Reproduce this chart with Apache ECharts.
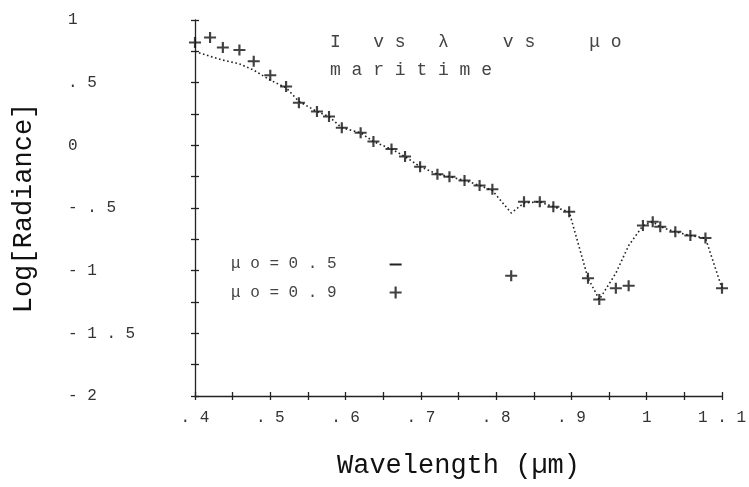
<!DOCTYPE html>
<html>
<head>
<meta charset="utf-8">
<script src="https://cdn.jsdelivr.net/npm/echarts@6/dist/echarts.min.js"></script>
<style>html,body{margin:0;padding:0;background:#fff}#c{width:749px;height:487px}</style>
</head>
<body>
<div id="c"></div>
<script>
// Wavelength (µm)
const wavelength = [0.400, 0.420, 0.437, 0.459, 0.478, 0.500, 0.521, 0.538, 0.562, 0.578, 0.595, 0.620, 0.637, 0.661, 0.679, 0.699, 0.722, 0.738, 0.758, 0.778, 0.795, 0.820, 0.837, 0.858, 0.876, 0.897, 0.922, 0.937, 0.959, 0.976, 0.995, 1.008, 1.018, 1.038, 1.058, 1.078, 1.100];
// Log[Radiance], μo = 0.5 (dotted line)
const mu05 = [0.75, 0.71, 0.68, 0.65, 0.60, 0.52, 0.46, 0.35, 0.27, 0.23, 0.14, 0.10, 0.03, -0.03, -0.09, -0.17, -0.23, -0.25, -0.28, -0.32, -0.36, -0.54, -0.46, -0.45, -0.49, -0.53, -1.06, -1.23, -1.02, -0.80, -0.64, -0.61, -0.65, -0.69, -0.72, -0.74, -1.14];
// Log[Radiance], μo = 0.9 (+ markers)
const mu09 = [0.82, 0.86, 0.78, 0.76, 0.67, 0.56, 0.47, 0.34, 0.27, 0.23, 0.14, 0.10, 0.03, -0.03, -0.09, -0.17, -0.23, -0.25, -0.28, -0.32, -0.35, -1.04, -0.45, -0.45, -0.49, -0.53, -1.06, -1.23, -1.14, -1.12, -0.64, -0.61, -0.65, -0.69, -0.72, -0.74, -1.14];
const xTickLabels = ['.4', '.5', '.6', '.7', '.8', '.9', '1', '1.1'];
const yTickLabels = ['-2', '-1.5', '-1', '-.5', '0', '.5', '1'];
const seriesNames = ['μo=0.5', 'μo=0.9'];
const titleLines = ['I   v s   λ     v s     μ o', 'm a r i t i m e'];
const xName = 'Wavelength (µm)';
const yName = 'Log[Radiance]';

const MONO = '"Liberation Mono", "DejaVu Sans Mono", monospace';
const spaced = s => s.split('').join(' ');
const PLUS = 'path://M0,4.1h10v1.8h-10z M4.1,0h1.8v10h-1.8z';
const DASH = 'path://M0,0h0.05v0.05h-0.05z M0,5h10v1.6h-10z M9.95,9.95h0.05v0.05h-0.05z';

const axisCommonX = {
  type: 'value', min: 0.4, max: 1.1, interval: 0.1,
  splitLine: { show: false }
};
const axisCommonY = {
  type: 'value', min: -2, max: 1, interval: 0.5,
  splitLine: { show: false }
};

const chart = echarts.init(document.getElementById('c'), null, { renderer: 'canvas' });
chart.setOption({
  backgroundColor: '#fff',
  animation: false,
  grid: { left: 195, right: 22, top: 20, bottom: 91, containLabel: false },
  xAxis: [
    Object.assign({}, axisCommonX, {
      position: 'bottom',
      name: xName, nameLocation: 'middle', nameGap: 56,
      nameTextStyle: { fontFamily: MONO, fontSize: 27, color: '#111' },
      axisLine: { show: true, onZero: false, lineStyle: { color: '#222', width: 1.3 } },
      axisTick: { show: true, length: 4, lineStyle: { color: '#222', width: 1.3 } },
      minorTick: { show: true, splitNumber: 2, length: 4, lineStyle: { color: '#222', width: 1.3 } },
      axisLabel: {
        margin: 14, fontFamily: MONO, fontSize: 16, color: '#333',
        formatter: (v, i) => spaced(xTickLabels[i] || '')
      }
    }),
    Object.assign({}, axisCommonX, {
      position: 'bottom',
      axisLine: { show: false, onZero: false },
      axisTick: { show: true, inside: true, length: 4, lineStyle: { color: '#222', width: 1.3 } },
      minorTick: { show: true, splitNumber: 2, length: 4, lineStyle: { color: '#222', width: 1.3 } },
      axisLabel: { show: false }
    })
  ],
  yAxis: [
    Object.assign({}, axisCommonY, {
      position: 'left',
      name: yName, nameLocation: 'middle', nameGap: 158, nameRotate: 90,
      nameTextStyle: { fontFamily: MONO, fontSize: 27, color: '#111' },
      axisLine: { show: true, onZero: false, lineStyle: { color: '#222', width: 1.3 } },
      axisTick: { show: true, length: 4, lineStyle: { color: '#222', width: 1.3 } },
      minorTick: { show: true, splitNumber: 2, length: 4, lineStyle: { color: '#222', width: 1.3 } },
      axisLabel: {
        margin: 127, align: 'left', fontFamily: MONO, fontSize: 16, color: '#333',
        formatter: (v, i) => spaced(yTickLabels[i] || '')
      }
    }),
    Object.assign({}, axisCommonY, {
      position: 'left',
      axisLine: { show: false, onZero: false },
      axisTick: { show: true, inside: true, length: 4, lineStyle: { color: '#222', width: 1.3 } },
      minorTick: { show: true, splitNumber: 2, length: 4, lineStyle: { color: '#222', width: 1.3 } },
      axisLabel: { show: false }
    })
  ],
  legend: {
    orient: 'vertical', left: 226, top: 250, align: 'right',
    itemWidth: 12, itemHeight: 12, itemGap: 12,
    selectedMode: false,
    textStyle: { fontFamily: MONO, fontSize: 16, color: '#444', lineHeight: 17 },
    formatter: name => spaced(name) + '     ',
    data: [
      { name: seriesNames[0], icon: DASH, itemStyle: { color: '#222' } },
      { name: seriesNames[1], icon: PLUS, itemStyle: { color: '#111' } }
    ]
  },
  graphic: [
    { type: 'text', left: 330, top: 33, style: { text: titleLines[0], font: '18px ' + MONO, fill: '#444' } },
    { type: 'text', left: 330, top: 61, style: { text: titleLines[1], font: '18px ' + MONO, fill: '#444' } }
  ],
  series: [
    {
      name: seriesNames[0], type: 'line', symbol: 'none', smooth: false,
      data: wavelength.map((w, i) => [w, mu05[i]]),
      lineStyle: { color: '#222', width: 1.6, type: [1.6, 2.6] },
      itemStyle: { color: '#222' },
      z: 2
    },
    {
      name: seriesNames[1], type: 'scatter', symbol: PLUS, symbolSize: [12, 11],
      data: wavelength.map((w, i) => [w, mu09[i]]),
      itemStyle: { color: '#111' },
      z: 3
    }
  ]
});
</script>
</body>
</html>
